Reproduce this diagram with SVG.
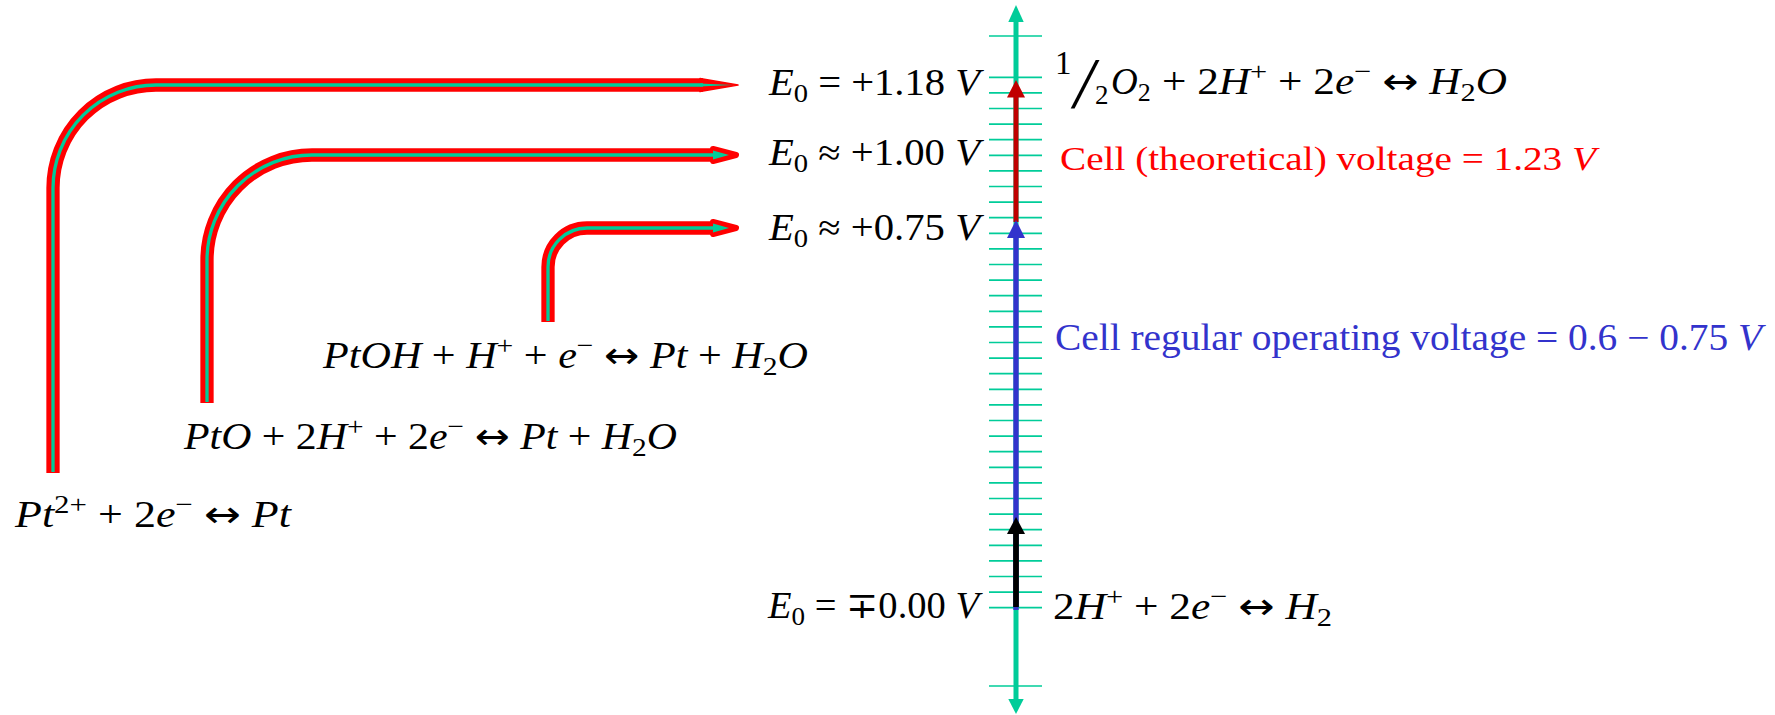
<svg xmlns="http://www.w3.org/2000/svg" width="1775" height="715" viewBox="0 0 1775 715">
<style>
.m{font-family:"Liberation Serif","DejaVu Serif",serif;font-size:37px;fill:#000}
.i{font-style:italic}
.s{font-size:26px}
.ar{font-family:"DejaVu Sans",sans-serif;font-style:normal}
.pr{fill:none;stroke:#FF0000;stroke-width:13.3;stroke-linejoin:round}
.pg{fill:none;stroke:#00CC99;stroke-width:3.3;stroke-linejoin:round}
.hr{fill:#FF0000;stroke:#FF0000;stroke-width:6;stroke-linejoin:round}
.hg{fill:#00CC99}
.tk{stroke:#00CC99;stroke-width:1.7}
</style>
<rect width="1775" height="715" fill="#FFFFFF"/>

<g id="connectors">
  <!-- pipes -->
  <path class="pr" d="M53,473 V188 A103,103 0 0 1 156,85 H703"/>
  <polygon fill="#FF0000" stroke="#FF0000" stroke-width="1.5" stroke-linejoin="round" points="700,78.4 738,85 700,91.6"/>
  <path class="pg" d="M53,472 V188 A103,103 0 0 1 156,85 H703"/>
  <polygon class="hg" points="700,83.4 733,85 700,86.6"/>

  <path class="pr" d="M207,403 V260 A105,105 0 0 1 312,155 H714"/>
  <polygon class="hr" points="713,149 736,155 713,161"/>
  <path class="pg" d="M207,402 V260 A105,105 0 0 1 312,155 H715"/>
  <polygon class="hg" points="713,150.5 729,155 713,159.5"/>

  <path class="pr" d="M548,322 V267 A39,39 0 0 1 587,228 H714"/>
  <polygon class="hr" points="713,222 736,228 713,234"/>
  <path class="pg" d="M548,321 V267 A39,39 0 0 1 587,228 H715"/>
  <polygon class="hg" points="713,223.5 729,228 713,232.5"/>

  <!-- axis ticks -->
  <g id="ticks">
    <line class="tk" x1="989" y1="36" x2="1042" y2="36"/>
    <line class="tk" x1="989" y1="77.3" x2="1042" y2="77.3"/>
    <line class="tk" x1="989" y1="92.9" x2="1042" y2="92.9"/>
    <line class="tk" x1="989" y1="108.5" x2="1042" y2="108.5"/>
    <line class="tk" x1="989" y1="124.1" x2="1042" y2="124.1"/>
    <line class="tk" x1="989" y1="139.7" x2="1042" y2="139.7"/>
    <line class="tk" x1="989" y1="155.3" x2="1042" y2="155.3"/>
    <line class="tk" x1="989" y1="170.9" x2="1042" y2="170.9"/>
    <line class="tk" x1="989" y1="186.5" x2="1042" y2="186.5"/>
    <line class="tk" x1="989" y1="202.1" x2="1042" y2="202.1"/>
    <line class="tk" x1="989" y1="217.7" x2="1042" y2="217.7"/>
    <line class="tk" x1="989" y1="233.3" x2="1042" y2="233.3"/>
    <line class="tk" x1="989" y1="248.9" x2="1042" y2="248.9"/>
    <line class="tk" x1="989" y1="264.5" x2="1042" y2="264.5"/>
    <line class="tk" x1="989" y1="280.1" x2="1042" y2="280.1"/>
    <line class="tk" x1="989" y1="295.7" x2="1042" y2="295.7"/>
    <line class="tk" x1="989" y1="311.3" x2="1042" y2="311.3"/>
    <line class="tk" x1="989" y1="326.9" x2="1042" y2="326.9"/>
    <line class="tk" x1="989" y1="342.5" x2="1042" y2="342.5"/>
    <line class="tk" x1="989" y1="358.1" x2="1042" y2="358.1"/>
    <line class="tk" x1="989" y1="373.7" x2="1042" y2="373.7"/>
    <line class="tk" x1="989" y1="389.3" x2="1042" y2="389.3"/>
    <line class="tk" x1="989" y1="404.9" x2="1042" y2="404.9"/>
    <line class="tk" x1="989" y1="420.5" x2="1042" y2="420.5"/>
    <line class="tk" x1="989" y1="436.1" x2="1042" y2="436.1"/>
    <line class="tk" x1="989" y1="451.7" x2="1042" y2="451.7"/>
    <line class="tk" x1="989" y1="467.3" x2="1042" y2="467.3"/>
    <line class="tk" x1="989" y1="482.9" x2="1042" y2="482.9"/>
    <line class="tk" x1="989" y1="498.5" x2="1042" y2="498.5"/>
    <line class="tk" x1="989" y1="514.1" x2="1042" y2="514.1"/>
    <line class="tk" x1="989" y1="529.7" x2="1042" y2="529.7"/>
    <line class="tk" x1="989" y1="545.3" x2="1042" y2="545.3"/>
    <line class="tk" x1="989" y1="560.9" x2="1042" y2="560.9"/>
    <line class="tk" x1="989" y1="576.5" x2="1042" y2="576.5"/>
    <line class="tk" x1="989" y1="592.1" x2="1042" y2="592.1"/>
    <line class="tk" x1="989" y1="607.7" x2="1042" y2="607.7"/>
    <line class="tk" x1="989" y1="686" x2="1042" y2="686"/>
  </g>

  <!-- axis -->
  <line x1="1016" y1="20" x2="1016" y2="700" stroke="#00CC99" stroke-width="5"/>
  <polygon fill="#00CC99" points="1008.3,22 1016,5 1023.7,22"/>
  <polygon fill="#00CC99" points="1008.3,699 1016,714 1023.7,699"/>

  <!-- red theoretical arrow -->
  <line x1="1016" y1="222" x2="1016" y2="95" stroke="#C00000" stroke-width="5"/>
  <polygon fill="#C00000" points="1007,97.5 1016,80 1025,97.5"/>
  <!-- blue operating arrow -->
  <line x1="1016" y1="610" x2="1016" y2="236" stroke="#3333CC" stroke-width="5.3"/>
  <polygon fill="#3333CC" points="1007,238 1016,220 1025,238"/>
  <!-- black arrow -->
  <line x1="1016" y1="607" x2="1016" y2="532" stroke="#000000" stroke-width="5.7"/>
  <polygon fill="#000000" points="1007,534 1016,517 1025,534"/>
</g>

<g id="e118">
  <text class="m" x="769" y="95" textLength="211" lengthAdjust="spacingAndGlyphs"><tspan class="i">E</tspan><tspan class="s" dy="7">0</tspan><tspan dy="-7"> = +1.18 </tspan><tspan class="i">V</tspan></text>
</g>
<g id="e100">
  <text class="m" x="769" y="165" textLength="211" lengthAdjust="spacingAndGlyphs"><tspan class="i">E</tspan><tspan class="s" dy="7">0</tspan><tspan dy="-7"> ≈ +1.00 </tspan><tspan class="i">V</tspan></text>
</g>
<g id="e075">
  <text class="m" x="769" y="240" textLength="211" lengthAdjust="spacingAndGlyphs"><tspan class="i">E</tspan><tspan class="s" dy="7">0</tspan><tspan dy="-7"> ≈ +0.75 </tspan><tspan class="i">V</tspan></text>
</g>
<g id="e000">
  <text class="m" x="768" y="618" textLength="211" lengthAdjust="spacingAndGlyphs"><tspan class="i">E</tspan><tspan class="s" dy="7">0</tspan><tspan dy="-7"> = ∓0.00 </tspan><tspan class="i">V</tspan></text>
</g>

<g id="eq-o2">
  <text class="m" x="1055" y="74" style="font-size:33px">1</text>
  <text class="m i" x="1074" y="107" style="font-size:72px">/</text>
  <text class="m" x="1095" y="104" style="font-size:27px">2</text>
  <text class="m" x="1111" y="94"><tspan class="i">O</tspan><tspan class="s" dy="7">2</tspan></text>
  <text class="m" x="1162" y="94" textLength="345" lengthAdjust="spacingAndGlyphs">+ 2<tspan class="i">H</tspan><tspan class="s" dy="-14">+</tspan><tspan dy="14"> + 2</tspan><tspan class="i">e</tspan><tspan class="s" dy="-14">−</tspan><tspan dy="14"> </tspan><tspan class="ar">↔</tspan> <tspan class="i">H</tspan><tspan class="s" dy="7">2</tspan><tspan class="i" dy="-7">O</tspan></text>
</g>

<g id="cell-theoretical">
  <text class="m" x="1060" y="170" style="font-size:34px;fill:#FF0000" textLength="536" lengthAdjust="spacingAndGlyphs">Cell (theoretical) voltage = 1.23 <tspan class="i">V</tspan></text>
</g>

<g id="cell-operating">
  <text class="m" x="1055" y="350" style="fill:#3333CC" textLength="707" lengthAdjust="spacingAndGlyphs">Cell regular operating  voltage = 0.6 − 0.75 <tspan class="i">V</tspan></text>
</g>

<g id="eq-h2">
  <text class="m" x="1053" y="619" textLength="279" lengthAdjust="spacingAndGlyphs">2<tspan class="i">H</tspan><tspan class="s" dy="-14">+</tspan><tspan dy="14"> + 2</tspan><tspan class="i">e</tspan><tspan class="s" dy="-14">−</tspan><tspan dy="14"> </tspan><tspan class="ar">↔</tspan> <tspan class="i">H</tspan><tspan class="s" dy="7">2</tspan></text>
</g>

<g id="eq-ptoh">
  <text class="m" x="323" y="368" textLength="485" lengthAdjust="spacingAndGlyphs"><tspan class="i">PtOH</tspan> + <tspan class="i">H</tspan><tspan class="s" dy="-14">+</tspan><tspan dy="14"> + </tspan><tspan class="i">e</tspan><tspan class="s" dy="-14">−</tspan><tspan dy="14"> </tspan><tspan class="ar">↔</tspan> <tspan class="i">Pt</tspan> + <tspan class="i">H</tspan><tspan class="s" dy="7">2</tspan><tspan class="i" dy="-7">O</tspan></text>
</g>

<g id="eq-pto">
  <text class="m" x="184" y="449" textLength="493" lengthAdjust="spacingAndGlyphs"><tspan class="i">PtO</tspan> + 2<tspan class="i">H</tspan><tspan class="s" dy="-14">+</tspan><tspan dy="14"> + 2</tspan><tspan class="i">e</tspan><tspan class="s" dy="-14">−</tspan><tspan dy="14"> </tspan><tspan class="ar">↔</tspan> <tspan class="i">Pt</tspan> + <tspan class="i">H</tspan><tspan class="s" dy="7">2</tspan><tspan class="i" dy="-7">O</tspan></text>
</g>

<g id="eq-pt2">
  <text class="m" x="15" y="527" textLength="276" lengthAdjust="spacingAndGlyphs"><tspan class="i">Pt</tspan><tspan class="s" dy="-14">2+</tspan><tspan dy="14"> + 2</tspan><tspan class="i">e</tspan><tspan class="s" dy="-14">−</tspan><tspan dy="14"> </tspan><tspan class="ar">↔</tspan> <tspan class="i">Pt</tspan></text>
</g>
</svg>
